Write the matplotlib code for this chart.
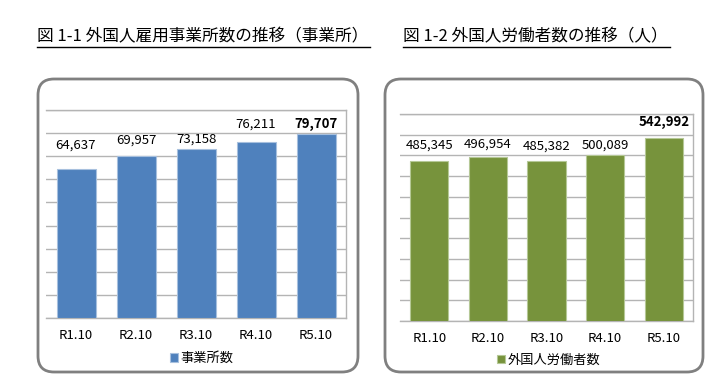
"""
Foreign workers charts: establishments and workers by year
"""

import matplotlib
matplotlib.use('Agg')
import matplotlib.pyplot as plt
from matplotlib.patches import FancyBboxPatch
from matplotlib.lines import Line2D
from matplotlib.transforms import IdentityTransform

plt.rcParams['font.family'] = ['Noto Sans CJK JP', 'DejaVu Sans']

# data
years = ['R1.10', 'R2.10', 'R3.10', 'R4.10', 'R5.10']
establishments = [64637, 69957, 73158, 76211, 79707]
workers = [485345, 496954, 485382, 500089, 542992]

title_left = '図 1-1 外国人雇用事業所数の推移（事業所）'
title_right = '図 1-2 外国人労働者数の推移（人）'
legend_left = '事業所数'
legend_right = '外国人労働者数'

W, H = 723, 385
fig = plt.figure(figsize=(W / 100, H / 100), dpi=100)


def px_axes(x0, y_top, x1, y_bot):
    return fig.add_axes([x0 / W, (H - y_bot) / H, (x1 - x0) / W, (y_bot - y_top) / H])


def rounded_box(x0, y_top, x1, y_bot):
    box = FancyBboxPatch((x0, H - y_bot), x1 - x0, y_bot - y_top,
                         boxstyle='round,pad=0,rounding_size=16',
                         transform=IdentityTransform(), facecolor='none',
                         edgecolor='#808080', linewidth=2.0, zorder=-1)
    fig.patches.append(box)


def draw_title(text, x0, x1):
    fig.text(x0 / W, (H - 37) / H, text, fontsize=12, va='center', ha='left')
    fig.add_artist(Line2D([x0 / W, x1 / W], [(H - 47) / H] * 2,
                          color='black', linewidth=1.0))


def bar_panel(ax, values, color, edge, ylim, step, offsets, legend_label, legend_pos):
    x = range(len(years))
    ax.bar(x, values, width=0.65, color=color, edgecolor=edge, linewidth=0.8,
           label=legend_label, zorder=3)
    ax.set_xlim(-0.5, len(years) - 0.5)
    ax.set_ylim(*ylim)
    ax.set_yticks(range(ylim[0], ylim[1] + 1, step))
    ax.set_yticklabels([])
    ax.set_xticks(list(x))
    ax.set_xticklabels(years, fontsize=9.5)
    ax.tick_params(axis='both', length=0)
    ax.tick_params(axis='x', pad=8)
    ax.grid(axis='y', color='#B4B4B4', linewidth=1.0, zorder=0)
    ax.set_axisbelow(True)
    ax.patch.set_alpha(0)
    ax.spines['left'].set_visible(False)
    for s in ('top', 'right', 'bottom'):
        ax.spines[s].set_color('#B4B4B4')
        ax.spines[s].set_linewidth(1.0)

    # value labels, last one bold
    for i, v in enumerate(values):
        bold = i == len(values) - 1
        ax.annotate(f'{v:,}', (i, v), xytext=(0, offsets[i] * 0.72),
                    textcoords='offset points', ha='center', va='center',
                    fontsize=9.5, fontweight='bold' if bold else 'normal')

    ax.legend(loc='center', bbox_to_anchor=legend_pos, frameon=False,
              fontsize=9.5, handlelength=0.6, handleheight=0.6,
              handletextpad=0.2, borderpad=0)


# frames
rounded_box(38, 79, 358, 372)
rounded_box(385, 79, 703, 372)

draw_title(title_left, 37, 370)
draw_title(title_right, 403, 670)

ax1 = px_axes(46, 110, 346, 318)
bar_panel(ax1, establishments, '#4F81BD', '#A7C0DE', (0, 90000), 10000,
          [23, 16, 10, 18, 10], legend_left, (0.52, -0.196))

ax2 = px_axes(400, 114, 693, 321)
bar_panel(ax2, workers, '#77933C', '#B5C896', (100000, 600000), 50000,
          [16, 13, 15, 10, 16], legend_right, (0.507, -0.19))

plt.savefig('out.png', dpi=100)
plt.close()
